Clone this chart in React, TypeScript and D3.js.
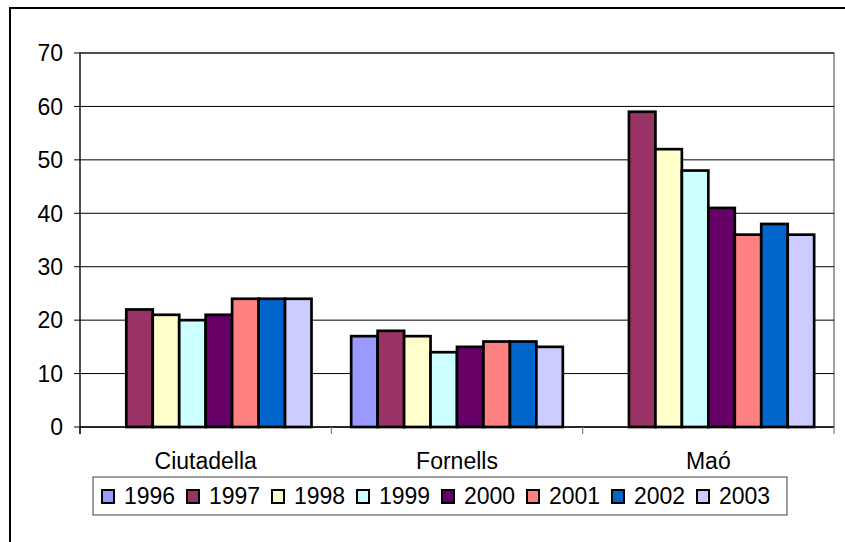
import React from "react";
import * as d3 from "d3";

const categories = ["Ciutadella", "Fornells", "Maó"];
const years = ["1996", "1997", "1998", "1999", "2000", "2001", "2002", "2003"];
const colors = ["#9999FF", "#993366", "#FFFFCC", "#CCFFFF", "#660066", "#FF8080", "#0066CC", "#CCCCFF"];
// values per year, one per category (null = no data)
const v1996: (number | null)[] = [null, 17, null];
const v1997: (number | null)[] = [22, 18, 59];
const v1998: (number | null)[] = [21, 17, 52];
const v1999: (number | null)[] = [20, 14, 48];
const v2000: (number | null)[] = [21, 15, 41];
const v2001: (number | null)[] = [24, 16, 36];
const v2002: (number | null)[] = [24, 16, 38];
const v2003: (number | null)[] = [24, 15, 36];
const series = [v1996, v1997, v1998, v1999, v2000, v2001, v2002, v2003];
const yTicks = [0, 10, 20, 30, 40, 50, 60, 70];

const W = 845;
const H = 542;
const FONT = "'Liberation Sans', Arial, sans-serif";

export default function App() {
  const left = 80, right = 834, top = 53, bottom = 427;
  const y = d3.scaleLinear().domain([0, 70]).range([bottom, top]);
  const x0 = d3.scaleBand<string>().domain(categories).range([left, right]).paddingInner(0).paddingOuter(0);
  const catW = x0.bandwidth();
  const gapFrac = 1.5 / (years.length + 1.5);
  const x1 = d3
    .scaleBand<string>()
    .domain(years)
    .range([catW * gapFrac / 2, catW * (1 - gapFrac / 2)])
    .padding(0);
  const bw = x1.bandwidth();

  const legendX = 93, legendY = 477, legendW = 694, legendH = 38;
  const itemStep = 85;

  return (
    <svg
      width={W}
      height={H}
      style={{ position: "absolute", left: 0, top: 0, display: "block", background: "#fff" }}
      fontFamily={FONT}
    >
      <rect x={0} y={0} width={W} height={H} fill="#fff" />
      {/* outer chart frame */}
      <rect x={10} y={8} width={900} height={700} fill="none" stroke="#000" strokeWidth={2} />
      {/* plot area border */}
      <rect x={left} y={top} width={right - left} height={bottom - top} fill="#fff" stroke="#808080" strokeWidth={1.5} />
      {/* gridlines */}
      {yTicks.map((t) => (
        <line key={"g" + t} x1={left} x2={right} y1={y(t)} y2={y(t)} stroke="#000" strokeWidth={1} />
      ))}
      {/* bars */}
      {series.map((vals, si) =>
        vals.map((v, ci) =>
          v == null ? null : (
            <rect
              key={`b${si}-${ci}`}
              x={(x0(categories[ci]) as number) + (x1(years[si]) as number)}
              y={y(v)}
              width={bw}
              height={y(0) - y(v)}
              fill={colors[si]}
              stroke="#000"
              strokeWidth={2.7}
            />
          )
        )
      )}
      {/* y axis */}
      <line x1={left} x2={left} y1={top} y2={bottom + 7} stroke="#000" strokeWidth={1} />
      {yTicks.map((t) => (
        <g key={"yt" + t}>
          <line x1={left - 6} x2={left} y1={y(t)} y2={y(t)} stroke="#000" strokeWidth={1} />
          <text x={63} y={y(t) + 8.3} textAnchor="end" fontSize={23} fill="#000">
            {t}
          </text>
        </g>
      ))}
      {/* x axis */}
      <line x1={left} x2={right} y1={bottom} y2={bottom} stroke="#000" strokeWidth={1.2} />
      {[...categories.map((c) => x0(c) as number), right].map((px, i) => (
        <line key={"xt" + i} x1={px} x2={px} y1={bottom} y2={bottom + 7} stroke={i === 0 ? "#000" : "#808080"} strokeWidth={1.2} />
      ))}
      {categories.map((c) => (
        <text key={c} x={(x0(c) as number) + catW / 2} y={469} textAnchor="middle" fontSize={23} fill="#000">
          {c}
        </text>
      ))}
      {/* legend */}
      <rect x={legendX} y={legendY} width={legendW} height={legendH} fill="#fff" stroke="#606060" strokeWidth={1.2} />
      {years.map((yr, i) => (
        <g key={"l" + yr} transform={`translate(${legendX + 8 + i * itemStep},${legendY})`}>
          <rect x={1} y={13} width={12} height={13} fill={colors[i]} stroke="#000" strokeWidth={2} />
          <text x={23} y={27} fontSize={23} fill="#000">
            {yr}
          </text>
        </g>
      ))}
    </svg>
  );
}
